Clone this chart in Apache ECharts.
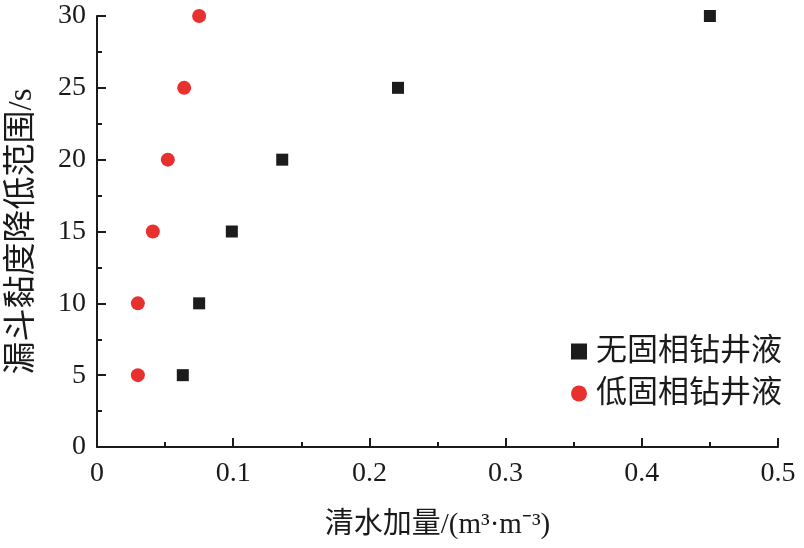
<!DOCTYPE html>
<html>
	<head>
		<meta charset="utf-8" />
		<title>清水加量</title>
		<script src="https://cdn.jsdelivr.net/npm/echarts@6/dist/echarts.min.js"></script>
		<style>
			html, body { margin: 0; padding: 0; background: #fff; }
			#main { width: 804px; height: 548px; }
		</style>
	</head>
	<body>
		<div id="main"></div>
		<script type="text/javascript">
			// 漏斗黏度降低范围 (s)
			var viscDrop = [5, 10, 15, 20, 25, 30];
			// 清水加量 - 无固相钻井液
			var waterNoSolid = [0.063, 0.075, 0.099, 0.136, 0.221, 0.450];
			// 清水加量 - 低固相钻井液
			var waterLowSolid = [0.030, 0.030, 0.041, 0.052, 0.064, 0.075];
			var seriesNames = ['无固相钻井液', '低固相钻井液'];

			function pairs(xs, ys) {
				var out = [];
				for (var i = 0; i < xs.length; i++) out.push([xs[i], ys[i]]);
				return out;
			}

			var fontFam = '"Liberation Serif", "Noto Sans CJK SC", serif';
			var axisColor = '#1a1a1a';

			var myChart = echarts.init(document.getElementById('main'));
			var option = {
				animation: false,
				textStyle: { fontFamily: fontFam },
				grid: { left: 97, right: 26, top: 16, bottom: 101, containLabel: false, outerBoundsMode: 'none' },
				legend: {
					orient: 'vertical',
					left: 566,
					top: 331,
					itemGap: 11,
					itemWidth: 16,
					itemHeight: 16,
					textStyle: { fontSize: 31, color: '#1a1a1a', fontFamily: fontFam, padding: [0, 0, 0, 4] },
					data: seriesNames
				},
				xAxis: {
					type: 'value',
					min: 0, max: 0.5, interval: 0.1,
					name: '清水加量/(m³·m⁻³)',
					nameLocation: 'middle',
					nameGap: 64,
					nameTextStyle: { fontSize: 29, color: '#1a1a1a', fontFamily: fontFam },
					axisLine: { show: true, lineStyle: { color: axisColor, width: 2 } },
					axisTick: { show: true, inside: true, length: 9, lineStyle: { color: axisColor, width: 2 } },
					minorTick: { show: true, splitNumber: 2, length: 5, lineStyle: { color: axisColor, width: 2 } },
					axisLabel: { fontSize: 28, color: '#1a1a1a', margin: 13, fontFamily: fontFam },
					splitLine: { show: false }
				},
				yAxis: {
					type: 'value',
					min: 0, max: 30, interval: 5,
					name: '漏斗黏度降低范围/s',
					nameLocation: 'middle',
					nameGap: 58,
					nameTextStyle: { fontSize: 33, color: '#1a1a1a', fontFamily: fontFam },
					axisLine: { show: true, lineStyle: { color: axisColor, width: 2 } },
					axisTick: { show: true, inside: true, length: 9, lineStyle: { color: axisColor, width: 2 } },
					minorTick: { show: true, splitNumber: 2, length: 5, lineStyle: { color: axisColor, width: 2 } },
					axisLabel: { fontSize: 28, color: '#1a1a1a', margin: 11, fontFamily: fontFam },
					splitLine: { show: false }
				},
				series: [
					{
						name: seriesNames[0],
						type: 'scatter',
						symbol: 'rect',
						symbolSize: 12,
						itemStyle: { color: '#1c1c1c', opacity: 1 },
						data: pairs(waterNoSolid, viscDrop)
					},
					{
						name: seriesNames[1],
						type: 'scatter',
						symbol: 'circle',
						symbolSize: 14,
						itemStyle: { color: '#e8302f', opacity: 1 },
						data: pairs(waterLowSolid, viscDrop)
					}
				]
			};
			myChart.setOption(option);
		</script>
	</body>
</html>
